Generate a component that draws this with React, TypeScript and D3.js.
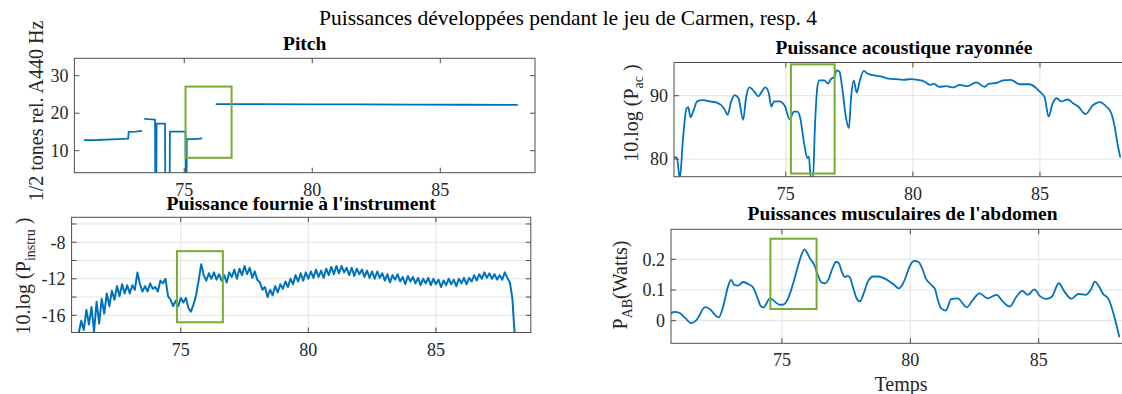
import * as d3 from "d3";
import React from "react";

// ---- data ----
const pitchTime = [71.08, 71.6, 72.2, 72.81, 72.83, 73.1, 73.35, 73.4, 73.44, 73.6, 73.86, 73.87, 73.91, 73.92, 74.1, 74.25, 74.26, 74.43, 74.44, 74.8, 75.05, 75.06, 75.09, 75.1, 75.4, 75.7, 76.0, 76.23, 78, 80, 82, 84, 86, 88.03];
const pitchValue = [12.8, 12.85, 13.0, 13.2, 15.0, 15.1, 15.3, NaN, 18.5, 18.4, 18.3, 0, 0, 17.2, 17.2, 17.2, 0, 0, 15.1, 15.1, 15.1, 0, 0, 13.1, 13.1, 13.3, NaN, 22.4, 22.4, 22.35, 22.35, 22.3, 22.25, 22.2];

const acTime = [70.5, 70.71, 70.83, 70.95, 71.09, 71.16, 71.25, 71.37, 71.51, 71.73, 72.01, 72.29, 72.57, 72.71, 72.85, 72.99, 73.14, 73.32, 73.44, 73.56, 73.77, 73.91, 74.05, 74.19, 74.33, 74.43, 74.54, 74.75, 74.97, 75.15, 75.32, 75.46, 75.56, 75.72, 75.84, 75.91, 75.98, 76.07, 76.14, 76.24, 76.31, 76.52, 76.66, 76.77, 76.91, 77.01, 77.11, 77.22, 77.36, 77.48, 77.57, 77.67, 77.79, 77.92, 78.07, 78.21, 78.49, 78.77, 79.05, 79.33, 79.62, 79.9, 80.18, 80.47, 80.68, 80.82, 81.03, 81.31, 81.59, 81.84, 82.15, 82.49, 82.82, 83.0, 83.28, 83.54, 83.85, 84.2, 84.59, 84.85, 85.0, 85.18, 85.34, 85.5, 85.66, 85.84, 86.09, 86.3, 86.5, 86.8, 87.08, 87.35, 87.61, 87.81, 87.94, 88.07, 88.16];
const acValue = [80.3, 80.3, 77.0, 83.0, 88.0, 88.2, 86.6, 87.7, 89.1, 89.3, 89.1, 88.9, 88.0, 87.0, 89.1, 90.1, 89.6, 86.2, 89.8, 91.3, 90.6, 89.9, 90.6, 91.3, 90.4, 88.3, 89.1, 89.1, 88.3, 86.3, 87.5, 87.5, 86.6, 82.5, 80.2, 80.4, 77.0, 77.0, 84.6, 91.3, 92.4, 92.4, 91.9, 92.6, 93.0, 94.0, 93.8, 91.2, 86.7, 84.9, 89.8, 92.4, 90.5, 92.5, 93.9, 93.5, 93.2, 93.0, 92.7, 92.6, 92.5, 92.6, 92.5, 92.2, 91.7, 91.9, 91.4, 91.5, 91.3, 91.7, 91.5, 92.1, 91.4, 91.9, 92.0, 92.4, 92.5, 91.8, 91.8, 91.2, 90.6, 89.8, 86.7, 88.8, 89.6, 89.1, 89.4, 88.8, 88.3, 87.1, 88.5, 89.0, 88.3, 87.2, 85.1, 82.0, 80.3];

const instTime = [71.0, 71.1, 71.2, 71.3, 71.4, 71.5, 71.6, 71.7, 71.8, 71.9, 72.0, 72.1, 72.2, 72.3, 72.4, 72.5, 72.6, 72.7, 72.8, 72.9, 73.0, 73.1, 73.2, 73.3, 73.4, 73.5, 73.6, 73.7, 73.8, 73.9, 74.0, 74.1, 74.2, 74.3, 74.4, 74.5, 74.6, 74.7, 74.8, 74.9, 75.0, 75.1, 75.2, 75.3, 75.4, 75.5, 75.6, 75.7, 75.8, 75.9, 76.0, 76.1, 76.2, 76.3, 76.4, 76.5, 76.6, 76.7, 76.8, 76.9, 77.0, 77.1, 77.2, 77.3, 77.4, 77.5, 77.6, 77.7, 77.8, 77.9, 78.0, 78.1, 78.2, 78.3, 78.4, 78.5, 78.6, 78.7, 78.8, 78.9, 79.0, 79.1, 79.2, 79.3, 79.4, 79.5, 79.6, 79.7, 79.8, 79.9, 80.0, 80.1, 80.2, 80.3, 80.4, 80.5, 80.6, 80.7, 80.8, 80.9, 81.0, 81.1, 81.2, 81.3, 81.4, 81.5, 81.6, 81.7, 81.8, 81.9, 82.0, 82.1, 82.2, 82.3, 82.4, 82.5, 82.6, 82.7, 82.8, 82.9, 83.0, 83.1, 83.2, 83.3, 83.4, 83.5, 83.6, 83.7, 83.8, 83.9, 84.0, 84.1, 84.2, 84.3, 84.4, 84.5, 84.6, 84.7, 84.8, 84.9, 85.0, 85.1, 85.2, 85.3, 85.4, 85.5, 85.6, 85.7, 85.8, 85.9, 86.0, 86.1, 86.2, 86.3, 86.4, 86.5, 86.6, 86.7, 86.8, 86.9, 87.0, 87.1, 87.2, 87.3, 87.4, 87.5, 87.6, 87.7, 87.8, 87.9, 88.0, 88.05, 88.1];
const instValue = [-17.9, -16.6, -17.6, -15.4, -17.0, -15.1, -17.8, -14.5, -16.9, -14.2, -15.8, -13.6, -15.0, -13.3, -14.3, -12.8, -13.9, -12.6, -13.6, -12.7, -13.6, -12.7, -13.2, -11.3, -12.6, -13.4, -12.8, -13.4, -12.5, -13.1, -12.9, -13.4, -12.2, -12.5, -12.0, -13.9, -14.3, -15.0, -14.4, -15.0, -14.1, -14.6, -14.1, -15.2, -15.6, -14.8, -13.8, -12.2, -10.4, -11.6, -12.2, -11.4, -12.0, -11.3, -12.1, -11.5, -12.2, -11.6, -12.4, -11.3, -11.8, -11.0, -12.0, -10.9, -11.6, -10.6, -11.5, -10.8, -11.9, -11.2, -12.1, -12.4, -13.2, -12.9, -14.0, -13.2, -13.8, -12.8, -13.5, -12.6, -13.1, -12.3, -12.9, -12.0, -12.6, -11.6, -12.3, -11.4, -12.2, -11.3, -12.0, -11.2, -11.9, -11.0, -11.8, -11.1, -11.9, -10.9, -11.6, -10.7, -11.5, -10.6, -11.4, -10.6, -11.3, -10.8, -11.6, -10.8, -11.7, -10.9, -11.5, -11.0, -11.8, -11.1, -11.9, -11.2, -12.0, -11.2, -11.9, -11.4, -12.2, -11.5, -12.4, -11.6, -12.1, -11.5, -12.3, -11.8, -12.6, -11.7, -12.3, -11.8, -12.5, -11.9, -12.7, -12.0, -12.5, -11.9, -12.7, -12.0, -12.6, -12.1, -12.9, -12.2, -12.7, -12.0, -12.6, -12.1, -12.8, -12.0, -12.5, -11.9, -12.6, -11.9, -12.3, -11.6, -12.2, -11.5, -12.0, -11.3, -11.9, -11.4, -12.0, -11.5, -12.1, -11.6, -12.1, -11.3, -11.9, -12.4, -14.2, -16.5, -18.5];

const abTime = [70.5, 70.81, 71.02, 71.23, 71.47, 71.66, 72.01, 72.22, 72.39, 72.54, 72.71, 72.9, 73.02, 73.14, 73.28, 73.49, 73.7, 73.87, 74.05, 74.19, 74.29, 74.4, 74.52, 74.64, 74.8, 74.92, 75.04, 75.18, 75.32, 75.46, 75.64, 75.78, 75.87, 75.95, 76.09, 76.26, 76.42, 76.55, 76.69, 76.83, 76.97, 77.11, 77.22, 77.33, 77.45, 77.55, 77.64, 77.76, 77.9, 78.04, 78.18, 78.35, 78.56, 78.77, 78.98, 79.19, 79.41, 79.55, 79.69, 79.83, 79.97, 80.15, 80.32, 80.46, 80.6, 80.81, 80.96, 81.07, 81.2, 81.38, 81.59, 81.84, 82.2, 82.43, 82.69, 83.02, 83.35, 83.61, 83.87, 84.13, 84.36, 84.57, 84.83, 85.05, 85.28, 85.51, 85.78, 86.01, 86.27, 86.54, 86.83, 87.02, 87.19, 87.35, 87.51, 87.72, 87.87, 88.01, 88.14];
const abValue = [0.008, 0.029, 0.025, 0.009, -0.008, 0.001, 0.044, 0.036, 0.019, 0.011, 0.046, 0.111, 0.133, 0.117, 0.114, 0.126, 0.119, 0.109, 0.074, 0.046, 0.043, 0.057, 0.072, 0.068, 0.057, 0.052, 0.052, 0.063, 0.09, 0.128, 0.182, 0.219, 0.232, 0.225, 0.203, 0.182, 0.144, 0.124, 0.122, 0.138, 0.171, 0.192, 0.187, 0.16, 0.142, 0.146, 0.142, 0.111, 0.074, 0.063, 0.088, 0.128, 0.144, 0.144, 0.138, 0.128, 0.114, 0.105, 0.117, 0.144, 0.176, 0.195, 0.191, 0.171, 0.138, 0.117, 0.103, 0.068, 0.04, 0.033, 0.07, 0.073, 0.044, 0.067, 0.089, 0.073, 0.084, 0.062, 0.046, 0.078, 0.097, 0.084, 0.102, 0.08, 0.071, 0.078, 0.122, 0.094, 0.071, 0.087, 0.084, 0.1, 0.127, 0.111, 0.087, 0.07, 0.035, -0.008, -0.054];

// highlighted windows [t0, t1, v0, v1]
const pitchBox = [75.05, 76.85, 8.1, 27.1];
const acBox = [75.2, 76.92, 77.74, 94.94];
const instBox = [74.85, 76.65, -16.76, -8.98];
const abBox = [74.55, 76.35, 0.038, 0.267];

const xTicks = [75, 80, 85];
const pitchTicks = [10, 20, 30];
const acTicks = [80, 90];
const instTicks = [-16, -14, -12, -10, -8, -6];
const instLabels = [-16, -12, -8];
const abTicks = [0, 0.1, 0.2];

const FONT = "'Liberation Serif', 'Times New Roman', serif";
const BLUE = "#0072BD";
const GREEN = "#77AC30";
const AXIS = "#4d4d4d";
const TXT = "#262626";

type PanelProps = {
  id: string;
  left: number;
  right: number;
  top: number;
  bottom: number;
  xDomain: [number, number];
  yDomain: [number, number];
  time: number[];
  values: number[];
  box: number[];
  yTicks: number[];
  yLabels?: number[];
  yFmt?: (v: number) => string;
  grid: boolean;
  title: string;
  titleY: number;
  lineWidth?: number;
  curve?: d3.CurveFactory;
};

const Panel = ({
  id,
  left,
  right,
  top,
  bottom,
  xDomain,
  yDomain,
  time,
  values,
  box,
  yTicks,
  yLabels,
  yFmt = (v) => String(v),
  grid,
  title,
  titleY,
  lineWidth = 1.8,
  curve = d3.curveLinear,
}: PanelProps) => {
  const x = d3.scaleLinear().domain(xDomain).range([left, right]);
  const y = d3.scaleLinear().domain(yDomain).range([bottom, top]);
  const pts = time.map((t, i) => [t, values[i]] as [number, number]);
  const line = d3
    .line<[number, number]>()
    .defined((d) => !isNaN(d[1]))
    .x((d) => x(d[0]))
    .y((d) => y(d[1]))
    .curve(curve);
  const labels = yLabels ?? yTicks;
  const tick = 5;

  return (
    <g>
      <defs>
        <clipPath id={`clip-${id}`}>
          <rect x={left} y={top} width={right - left} height={bottom - top} />
        </clipPath>
      </defs>
      <rect x={left} y={top} width={right - left} height={bottom - top} fill="#fff" />
      {grid &&
        xTicks.map((t) => (
          <line key={`gx${t}`} x1={x(t)} x2={x(t)} y1={top} y2={bottom} stroke="#e3e3e3" strokeWidth={1} />
        ))}
      {grid &&
        yTicks.map((t) => (
          <line key={`gy${t}`} x1={left} x2={right} y1={y(t)} y2={y(t)} stroke="#e3e3e3" strokeWidth={1} />
        ))}
      <g clipPath={`url(#clip-${id})`}>
        <path d={line(pts) ?? ""} fill="none" stroke={BLUE} strokeWidth={lineWidth} strokeLinejoin="round" />
        <rect
          x={x(box[0])}
          y={y(box[3])}
          width={x(box[1]) - x(box[0])}
          height={y(box[2]) - y(box[3])}
          fill="none"
          stroke={GREEN}
          strokeWidth={2}
        />
      </g>
      {xTicks.map((t) => (
        <g key={`tx${t}`}>
          <line x1={x(t)} x2={x(t)} y1={bottom} y2={bottom - tick} stroke={AXIS} />
          <line x1={x(t)} x2={x(t)} y1={top} y2={top + tick} stroke={AXIS} />
          <text x={x(t)} y={bottom + 23} textAnchor="middle" fontSize={18} fill={TXT}>
            {t}
          </text>
        </g>
      ))}
      {yTicks.map((t) => (
        <g key={`ty${t}`}>
          <line x1={left} x2={left + tick} y1={y(t)} y2={y(t)} stroke={AXIS} />
          <line x1={right} x2={right - tick} y1={y(t)} y2={y(t)} stroke={AXIS} />
        </g>
      ))}
      {labels.map((t) => (
        <text key={`ly${t}`} x={left - 6} y={y(t)} dy="0.35em" textAnchor="end" fontSize={18} fill={TXT}>
          {yFmt(t)}
        </text>
      ))}
      <rect x={left} y={top} width={right - left} height={bottom - top} fill="none" stroke={AXIS} strokeWidth={1} />
      <text x={(left + right) / 2} y={titleY} textAnchor="middle" fontSize={19.5} fontWeight="bold" fill="#000">
        {title}
      </text>
    </g>
  );
};

const App = () => {
  return (
    <svg
      width={1122}
      height={394}
      style={{ position: "absolute", left: 0, top: 0, background: "#fff" }}
      fontFamily={FONT}
    >
      <rect width={1122} height={394} fill="#fff" />
      <text x={568} y={25} textAnchor="middle" fontSize={21.5} fill="#000">
        Puissances développées pendant le jeu de Carmen, resp. 4
      </text>

      <Panel
        id="pitch"
        left={74.4}
        right={535}
        top={58.3}
        bottom={172.7}
        xDomain={[70.71, 88.7]}
        yDomain={[4.13, 34.64]}
        time={pitchTime}
        values={pitchValue}
        box={pitchBox}
        yTicks={pitchTicks}
        grid={false}
        title="Pitch"
        titleY={50}
      />
      <Panel
        id="ac"
        left={674}
        right={1134}
        top={62.5}
        bottom={176.7}
        xDomain={[70.6, 88.7]}
        yDomain={[77.24, 95.23]}
        time={acTime}
        values={acValue}
        box={acBox}
        yTicks={acTicks}
        grid={true}
        title="Puissance acoustique rayonnée"
        titleY={54}
        curve={d3.curveMonotoneX}
      />
      <Panel
        id="inst"
        left={71.6}
        right={530.8}
        top={217.3}
        bottom={332.5}
        xDomain={[70.72, 88.72]}
        yDomain={[-17.88, -5.27]}
        time={instTime}
        values={instValue}
        box={instBox}
        yTicks={instTicks}
        yLabels={instLabels}
        grid={true}
        title="Puissance fournie à l'instrument"
        titleY={210}
        lineWidth={2}
      />
      <Panel
        id="ab"
        left={671}
        right={1134}
        top={229.3}
        bottom={343.3}
        xDomain={[70.68, 88.71]}
        yDomain={[-0.0736, 0.2977]}
        time={abTime}
        values={abValue}
        box={abBox}
        yTicks={abTicks}
        yFmt={(v) => (v === 0 ? "0" : v.toFixed(1))}
        grid={true}
        title="Puissances musculaires de l'abdomen"
        titleY={220}
        curve={d3.curveMonotoneX}
      />

      {/* y axis labels */}
      <text transform="translate(43,111) rotate(-90)" textAnchor="middle" fontSize={20} fill={TXT}>
        1/2 tones rel. A440 Hz
      </text>
      <text transform="translate(30,276) rotate(-90)" textAnchor="middle" fontSize={20} fill={TXT}>
        10.log (P
        <tspan fontSize={14} dy={5}>
          instru
        </tspan>
        <tspan dy={-5}> )</tspan>
      </text>
      <text transform="translate(638,113) rotate(-90)" textAnchor="middle" fontSize={20} fill={TXT}>
        10.log (P
        <tspan fontSize={14} dy={5}>
          ac
        </tspan>
        <tspan dy={-5}> )</tspan>
      </text>
      <text transform="translate(627,285) rotate(-90)" textAnchor="middle" fontSize={20} fill={TXT}>
        P
        <tspan fontSize={14} dy={5}>
          AB
        </tspan>
        <tspan dy={-5}>(Watts)</tspan>
      </text>
      <text x={901} y={391} textAnchor="middle" fontSize={20} fill={TXT}>
        Temps
      </text>
    </svg>
  );
};

export default App;
